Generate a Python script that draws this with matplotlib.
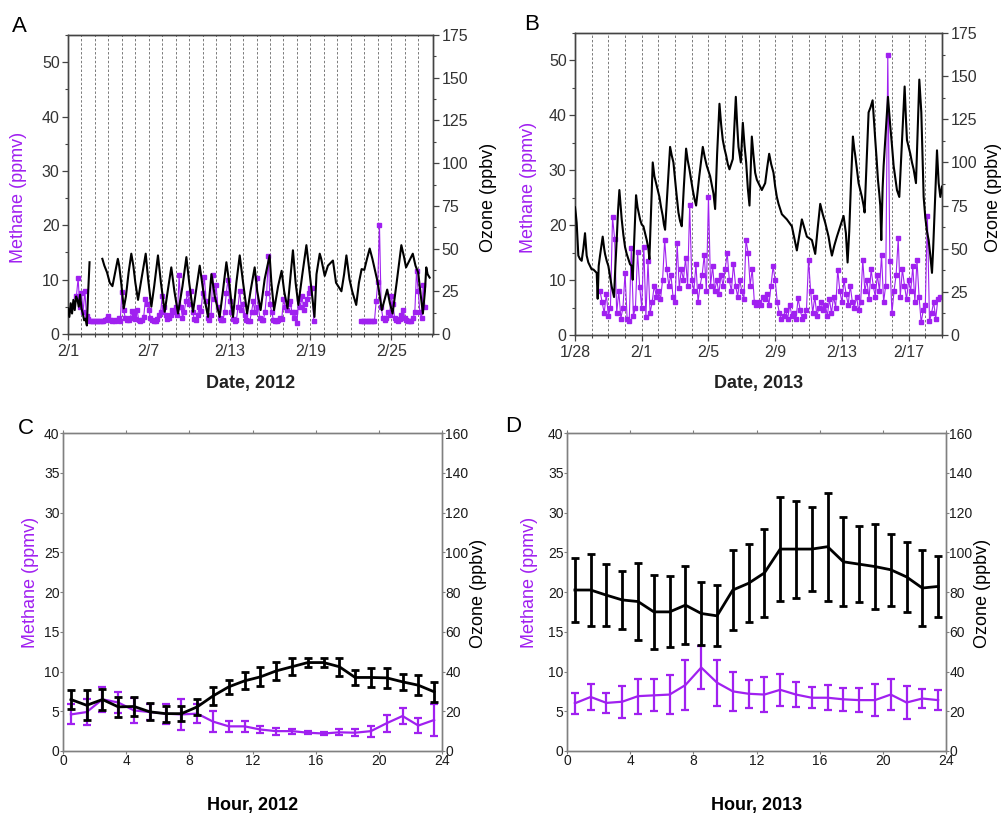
import numpy as np
import matplotlib
matplotlib.use('Agg')
import matplotlib.pyplot as plt
from matplotlib.ticker import MultipleLocator, FixedLocator

plt.rcParams['font.family'] = ['Liberation Sans', 'DejaVu Sans']

PURPLE = '#A020F0'
nan = np.nan

# ---------------- Panel A (Feb 2012) ----------------
a_date_ticks = [0, 6, 12, 18, 24]
a_date_labels = ['2/1', '2/7', '2/13', '2/19', '2/25']
a_ozone_day = [0.0, 0.1, 0.2, 0.3, 0.4, 0.5, 0.6, 0.7, 0.8, 0.9, 1.0, 1.1, 1.2, 1.3, 1.4, 1.5, 1.6,
               2.0,
               2.55, 2.7, 2.9, 3.1, 3.3, 3.5, 3.7, 3.8, 3.95, 4.14, 4.3, 4.5, 4.7, 4.85, 5.0, 5.2,
               5.45, 5.77, 5.95, 6.19, 6.4, 6.68, 6.9, 7.18, 7.4, 7.67, 7.9, 8.17, 8.5, 8.79, 9.0,
               9.28, 9.5, 9.78, 10.1, 10.4, 10.5, 10.65, 10.9, 11.26, 11.5, 11.76, 12.0, 12.25,
               12.5, 12.75, 13.0, 13.3, 13.55, 13.86, 14.05, 14.3, 14.6, 14.97, 15.1, 15.3, 15.6,
               15.86, 16.05, 16.3, 16.5, 16.7, 16.9, 17.1, 17.4, 17.7, 17.95, 18.3, 18.45, 18.69,
               18.8, 19.06, 19.3, 19.67, 19.9, 20.3, 20.5, 20.67, 20.9, 21.1, 21.4, 21.6, 21.8,
               22.0, 22.2, 22.4, 22.6, 22.8, 23.0, 23.3, 23.5, 23.7, 23.9, 24.1, 24.4, 24.75,
               24.95, 25.1, 25.35, 25.6, 25.8, 26.0, 26.2, 26.35, 26.5, 26.6, 26.7, 26.85]
a_ozone = [15, 10, 18, 12, 20, 14, 22, 20, 16, 23, 15, 12, 8, 9, 5, 25, 42,
           nan,
           44, 40, 36, 30, 28, 36, 44, 40, 30, 15, 22, 36, 47, 40, 30, 20,
           32, 47, 32, 16, 28, 46, 30, 13, 25, 39, 25, 12, 28, 45, 30,
           13, 25, 40, 22, 10, 22, 35, 22, 10, 25, 42, 28, 10,
           30, 46, 30, 12, 25, 39, 25, 14, 32, 46, 30, 14, 28,
           37, 25, 15, 32, 49, 30, 17, 35, 52, 35, 10, 35, 47,
           44, 34, 40, 43, 30, 25, 35, 46, 32, 25, 17, 30, 38,
           37.5, 44, 50, 44, 37, 30, 14, 20, 26, 18, 12, 30, 52,
           45, 39, 43, 47, 40, 36, 22, 12, 25, 39, 35, 33]
# methane, 3-hourly starting 2/1 00:00
a_methane = [nan, nan, nan, nan, nan, 6.9, 10.3, 5.0,
             7.5, 4.0, 8.0, 3.3, 2.8, 2.3, 2.3, 2.3,
             2.3, 2.3, 2.3, 2.3, 2.3, 2.3, 2.5, 2.8,
             3.4, 2.5, 2.3, 2.6, 2.4, 2.6, 3.0, 2.4,
             7.8, 4.5, 3.0, 2.6, 2.5, 3.0, 4.2, 3.5,
             2.8, 4.5, 2.6, 2.4, 2.5, 3.2, 6.5, 5.5,
             4.5, 3.0, 2.5, 2.3, 2.4, 2.8, 3.5, 4.0,
             7.0, 5.0, 3.5, 2.8, 3.0, 3.5, 4.5, 4.0,
             5.0, 3.5, 10.8, 5.0, 3.0, 4.0, 6.0, 7.5,
             5.5, 8.0, 4.0, 2.8, 2.6, 3.5, 5.0, 4.2,
             7.5, 10.5, 6.0, 3.0, 2.6, 3.5, 10.8, 6.5,
             9.0, 5.0, 3.0, 2.5, 2.5, 4.0, 7.5, 10.0,
             6.0, 4.0, 2.8, 2.3, 2.5, 5.0, 8.0, 4.5,
             5.5, 3.5, 2.5, 2.3, 2.4, 4.0, 6.0, 4.0,
             10.3, 5.0, 3.0, 2.5, 2.6, 4.0, 7.5, 14.3,
             5.5, 4.0, 2.6, 2.3, 2.3, 2.5, 3.0, 2.8,
             6.5, 5.0, 4.5, 5.5, 6.0, 4.0, 3.0, 4.0,
             2.0, 6.5, 5.0, 7.0, 4.5, 5.5, 6.5, 7.5,
             8.5, 8.5, 2.3, nan, nan, nan, nan, nan,
             nan, nan, nan, nan, nan, nan, nan, nan,
             nan, nan, nan, nan, nan, nan, nan, nan,
             nan, nan, nan, nan, nan, nan, 2.3, 2.3,
             2.3, 2.3, 2.3, 2.3, 2.3, 2.3, 2.3, 6.0,
             9.5, 20.0, 5.0, 3.0, 2.6, 3.0, 4.0, 3.5,
             7.0, 5.5, 3.0, 2.5, 2.4, 2.8, 3.5, 4.5,
             3.0, 2.5, 2.4, 2.3, 2.4, 3.0, 4.0, 11.5,
             8.0, 4.0, 3.0, 9.0, 5.0, nan, nan, nan]

# ---------------- Panel B (Jan/Feb 2013) ----------------
b_date_ticks = [0, 4, 8, 12, 16, 20]
b_date_labels = ['1/28', '2/1', '2/5', '2/9', '2/13', '2/17']
b_ozone_day = [0.0, 0.05, 0.1, 0.2, 0.3, 0.4, 0.5, 0.6, 0.7, 0.8, 0.9, 1.0, 1.1, 1.2, 1.3, 1.36,
               1.42, 1.5, 1.66, 1.75, 1.8, 1.9, 2.0, 2.1, 2.2, 2.34, 2.42, 2.5, 2.58, 2.66, 2.74,
               2.8, 2.9, 3.0, 3.1, 3.2, 3.3, 3.4, 3.46, 3.55, 3.66, 3.75, 3.9, 4.0, 4.1, 4.2, 4.3,
               4.4, 4.46, 4.55, 4.66, 4.76, 4.86, 4.96, 5.06, 5.16, 5.26, 5.33, 5.4, 5.55, 5.7,
               5.8, 5.9, 6.0, 6.06, 6.2, 6.3, 6.4, 6.52, 6.66, 6.76, 6.86, 6.96, 7.06, 7.16, 7.26,
               7.45, 7.66, 7.78, 7.9, 8.0, 8.1, 8.2, 8.3, 8.4, 8.52, 8.66, 8.76, 8.86, 8.96, 9.06,
               9.16, 9.26, 9.36, 9.46, 9.55, 9.64, 9.72, 9.8, 9.94, 10.0, 10.06, 10.16, 10.26,
               10.36, 10.46, 10.53, 10.6, 10.7, 10.8, 10.9, 11.0, 11.1, 11.2, 11.3, 11.4, 11.52,
               11.64, 11.76, 11.9, 12.0, 12.1, 12.2, 12.3, 12.4, 12.5, 12.6, 12.7, 12.85, 13.0,
               13.15, 13.3, 13.45, 13.6, 13.75, 13.9, 14.05, 14.2, 14.3, 14.4, 14.55, 14.7, 14.85,
               15.0, 15.1, 15.2, 15.3, 15.4, 15.55, 15.7, 15.9, 16.1, 16.24, 16.34, 16.44, 16.55,
               16.66, 16.74, 16.8, 16.9, 17.0, 17.1, 17.2, 17.3, 17.36, 17.48, 17.6, 17.72, 17.84,
               17.92, 18.0, 18.08, 18.16, 18.24, 18.3, 18.36, 18.44, 18.5, 18.64, 18.76, 18.84,
               18.9, 19.0, 19.1, 19.2, 19.3, 19.44, 19.6, 19.76, 19.84, 19.9, 20.0, 20.1, 20.2,
               20.3, 20.44, 20.54, 20.64, 20.7, 20.76, 20.84, 20.9, 21.0, 21.1, 21.2, 21.3, 21.4,
               21.47, 21.54, 21.62, 21.7, 21.8, 21.9, 22.0]
b_ozone = [74, 70, 65, 46, 44, 43, 50, 59, 46, 42, 40, 38, 38, 37, 36, 21,
           40, 46, 57, 50, 47, 43, 40, 34, 28, 22, 40, 55, 72, 84, 74,
           67, 58, 51, 47, 44, 41, 40, 32, 55, 81, 74, 67, 64, 63, 59, 55,
           50, 44, 70, 100, 92, 88, 84, 80, 74, 69, 64, 61, 85, 109,
           104, 100, 90, 84, 71, 66, 63, 85, 108, 101, 96, 90, 84, 79, 75,
           92, 109, 103, 98, 95, 92, 87, 82, 73, 105, 134, 122, 113, 108, 104,
           99, 96, 99, 102, 120, 138, 122, 109, 100, 112, 123, 110, 100,
           85, 75, 95, 115, 104, 94, 90, 88, 86, 84, 86, 88, 97,
           105, 99, 94, 86, 80, 76, 73, 70, 69, 68, 67, 65, 63,
           56, 49, 58, 67, 62, 57, 56, 55, 51, 47, 62, 76, 70,
           65, 61, 57, 51, 46, 52, 57, 63, 69, 59, 42, 60, 90,
           115, 108, 104, 96, 88, 84, 80, 75, 71, 100, 129, 132, 136,
           124, 113, 102, 90, 82, 75, 55, 85, 98, 120, 138, 128,
           121, 110, 98, 91, 84, 80, 112, 144, 125, 113, 109, 105, 100,
           96, 88, 118, 148, 138, 129, 100, 80, 68, 60, 55, 46, 36,
           50, 67, 88, 107, 88, 80, 86]
# methane, 3-hourly starting 1/28 00:00
b_methane = [nan, nan, nan, nan, nan, nan, nan, nan,
             nan, nan, nan, nan, 8.0, 6.0, 4.0, 7.5,
             3.5, 5.0, 21.5, 17.5, 4.0, 8.0, 3.0, 5.0,
             11.3, 3.0, 2.5, 15.8, 3.5, 5.0, 15.2, 8.8,
             5.0, 16.1, 3.3, 13.4, 4.0, 6.0, 9.0, 7.0,
             8.0, 6.5, 10.0, 17.3, 12.0, 9.0, 11.0, 7.0,
             6.0, 16.7, 8.5, 12.0, 10.0, 14.0, 9.0, 23.7,
             10.0, 8.0, 13.0, 6.0, 9.0, 11.0, 14.6, 8.0,
             25.2, 9.0, 12.5, 8.0, 10.0, 7.5, 11.0, 9.0,
             12.0, 14.9, 10.0, 8.0, 13.0, 9.0, 7.0, 10.0,
             8.0, 6.5, 17.3, 15.0, 9.0, 12.0, 6.0, 5.5,
             6.0, 5.5, 7.0, 6.5, 7.5, 5.5, 9.0, 12.5,
             10.0, 6.0, 4.0, 3.0, 3.5, 4.5, 3.0, 5.5,
             3.5, 4.0, 3.0, 6.7, 4.5, 3.0, 3.5, 4.5,
             13.7, 8.0, 4.0, 7.0, 3.5, 5.0, 6.0, 4.5,
             5.5, 3.5, 6.5, 4.0, 7.0, 5.0, 11.9, 8.0,
             6.0, 10.0, 7.5, 5.5, 9.0, 6.0, 5.0, 7.0,
             4.5, 6.0, 13.7, 8.0, 10.0, 6.5, 12.0, 9.0,
             7.0, 11.0, 8.0, 14.6, 6.0, 9.0, 51.0, 13.4,
             4.0, 8.0, 11.0, 17.6, 7.0, 12.0, 9.0, 6.5,
             10.0, 8.0, 12.5, 6.0, 13.7, 7.0, 2.3, 4.5,
             5.5, 21.6, 2.5, 4.0, 6.0, 3.0, 6.5, 7.0]

# ---------------- Panels C, D (diurnal means) ----------------
hours = [0.5, 1.5, 2.5, 3.5, 4.5, 5.5, 6.5, 7.5, 8.5, 9.5, 10.5, 11.5,
         12.5, 13.5, 14.5, 15.5, 16.5, 17.5, 18.5, 19.5, 20.5, 21.5, 22.5, 23.5]
c_methane = [4.6, 4.9, 6.5, 6.1, 5.1, 4.9, 4.7, 4.6, 4.7, 3.7, 3.1, 3.1,
             2.7, 2.5, 2.5, 2.3, 2.2, 2.35, 2.3, 2.5, 3.5, 4.4, 3.2, 3.9]
c_methane_err = [1.25, 1.6, 1.55, 1.3, 1.6, 0.95, 1.25, 1.9, 1.15, 1.35, 0.7, 0.65,
                 0.4, 0.45, 0.3, 0.2, 0.2, 0.4, 0.45, 0.7, 1.05, 0.95, 0.95, 2.0]
c_ozone = [25.9, 23.0, 25.9, 22.2, 22.4, 19.7, 18.8, 18.8, 22.2, 27.7, 32.3, 35.3,
           37.3, 40.3, 42.4, 44.5, 44.5, 42.4, 37.0, 37.0, 36.8, 34.8, 33.1, 29.8]
c_ozone_err = [5.0, 7.6, 5.3, 4.9, 4.6, 4.2, 4.0, 3.8, 4.2, 4.4, 3.6, 4.2,
               4.8, 4.4, 4.2, 2.4, 2.4, 4.6, 3.6, 4.6, 5.0, 4.0, 5.0, 5.0]
d_methane = [6.0, 6.8, 6.05, 6.2, 6.9, 7.0, 7.1, 8.3, 10.5, 8.6, 7.5, 7.2,
             7.1, 7.7, 7.1, 6.7, 6.7, 6.5, 6.4, 6.4, 7.1, 6.1, 6.6, 6.4]
d_methane_err = [1.3, 1.6, 1.25, 2.0, 2.2, 2.0, 2.4, 3.2, 2.75, 2.9, 2.45, 1.75,
                 2.25, 2.0, 1.6, 1.35, 1.6, 1.45, 1.5, 2.05, 1.95, 2.05, 1.15, 1.25]
d_ozone = [81.0, 81.0, 78.4, 76.0, 75.2, 70.0, 70.0, 73.4, 69.2, 68.0, 81.0, 84.4,
           89.6, 101.6, 101.6, 101.6, 102.8, 95.2, 94.0, 92.8, 91.2, 87.6, 82.0, 82.8]
d_ozone_err = [16.0, 18.2, 15.6, 14.6, 19.6, 18.6, 17.8, 19.6, 16.0, 15.4, 20.2, 19.6,
               22.2, 26.2, 24.4, 21.2, 27.2, 22.4, 19.2, 21.6, 18.0, 17.8, 19.2, 15.4]

W, H = 1003, 814
fig = plt.figure(figsize=(W / 100, H / 100), dpi=100)


def rect(l, t, r, b):
    return [l / W, 1 - b / H, (r - l) / W, (b - t) / H]


def timeseries(pos, ozone_day, ozone, methane, xmax, ticks, labels, xlabel,
               mlab, olab, xlab_y):
    ax = fig.add_axes(pos)
    ax2 = ax.twinx()
    mday = np.arange(len(methane)) / 8.0
    ax.plot(mday, methane, '-', color=PURPLE, lw=0.8, marker='s', ms=3.3,
            mfc=PURPLE, mec=PURPLE, zorder=3)
    ax2.plot(ozone_day, ozone, '-', color='black', lw=1.5, zorder=3)
    ax.set_xlim(0, xmax)
    ax.set_ylim(0, 55)
    ax2.set_ylim(0, 175)
    for d in range(1, int(xmax) + 1):
        if d < xmax - 0.3:
            ax.axvline(d, color='#7a7a7a', lw=0.7, ls=(0, (2.5, 2)), zorder=1)
    ax.xaxis.set_major_locator(FixedLocator(ticks))
    ax.set_xticklabels(labels)
    ax.xaxis.set_minor_locator(MultipleLocator(1))
    ax.yaxis.set_major_locator(MultipleLocator(10))
    ax.yaxis.set_minor_locator(MultipleLocator(5))
    ax2.yaxis.set_major_locator(MultipleLocator(25))
    ax2.yaxis.set_minor_locator(MultipleLocator(12.5))
    for a in (ax, ax2):
        for s in a.spines.values():
            s.set_color('#444444')
            s.set_linewidth(1.0)
        a.tick_params(which='major', direction='out', length=4, width=0.9,
                      color='#444444', labelsize=11.5, labelcolor='#333333', pad=2)
        a.tick_params(which='minor', direction='out', length=2.2, width=0.8,
                      color='#444444')
    ax.tick_params(axis='x', pad=3)
    ax2.tick_params(axis='y', pad=2)
    ax.set_xlabel(xlabel, fontsize=13, fontweight='bold', color='#222222', va='center')
    ax.xaxis.set_label_coords(0.5, xlab_y)
    ax.set_ylabel(mlab[0], fontsize=13, color=PURPLE, va='center', ha='center')
    ax.yaxis.set_label_coords(mlab[1], mlab[2])
    ax2.set_ylabel(olab[0], fontsize=13, color='black', va='center', ha='center',
                   rotation=90)
    ax2.yaxis.set_label_coords(olab[1], olab[2])
    return ax, ax2


timeseries(rect(68, 35, 433, 334), a_ozone_day, a_ozone, a_methane, 27.1,
           a_date_ticks, a_date_labels, 'Date, 2012',
           ('Methane (ppmv)', -0.136, 0.458), ('Ozone (ppbv)', 1.151, 0.458), -0.164)
timeseries(rect(575, 33, 942, 335), b_ozone_day, b_ozone, b_methane, 22.0,
           b_date_ticks, b_date_labels, 'Date, 2013',
           ('Methane (ppmv)', -0.128, 0.487), ('Ozone (ppbv)', 1.139, 0.457), -0.159)


def diurnal(pos, mval, merr, oval, oerr, xlabel, mlab_x, olab_x):
    ax = fig.add_axes(pos)
    ax2 = ax.twinx()
    ax.errorbar(hours, mval, yerr=merr, color=PURPLE, lw=1.6, elinewidth=1.6,
                capsize=3, capthick=1.6, zorder=3)
    ax2.errorbar(hours, oval, yerr=oerr, color='black', lw=2.0, elinewidth=2.0,
                 capsize=3, capthick=2.0, zorder=3)
    ax.set_xlim(0, 24)
    ax.set_ylim(0, 40)
    ax2.set_ylim(0, 160)
    ax.xaxis.set_major_locator(MultipleLocator(4))
    ax.yaxis.set_major_locator(MultipleLocator(5))
    ax2.yaxis.set_major_locator(MultipleLocator(20))
    for a in (ax, ax2):
        for s in a.spines.values():
            s.set_color('#808080')
            s.set_linewidth(1.0)
        a.tick_params(direction='out', length=2, width=0.8, color='#808080',
                      labelsize=10, labelcolor='#1a1a1a', pad=0.5)
    ax.tick_params(axis='x', top=True, pad=0.5)
    ax.set_xlabel(xlabel, fontsize=13, fontweight='bold', color='black', va='center')
    ax.xaxis.set_label_coords(0.5, -0.170)
    ax.set_ylabel('Methane (ppmv)', fontsize=13, color=PURPLE, va='center', ha='center')
    ax.yaxis.set_label_coords(mlab_x, 0.531)
    ax2.set_ylabel('Ozone (ppbv)', fontsize=13, color='black', va='center', ha='center',
                   rotation=90)
    ax2.yaxis.set_label_coords(olab_x, 0.494)
    return ax, ax2


diurnal(rect(63, 433, 442, 751), c_methane, c_methane_err, c_ozone, c_ozone_err,
        'Hour, 2012', -0.087, 1.097)
diurnal(rect(567, 433, 946, 751), d_methane, d_methane_err, d_ozone, d_ozone_err,
        'Hour, 2013', -0.098, 1.096)

for letter, x, y in [('A', 12, 26), ('B', 524, 25), ('C', 18, 428), ('D', 505, 427)]:
    fig.text(x / W, 1 - y / H, letter, fontsize=16, ha='left', va='center', color='black')

fig.savefig('out.png', dpi=100)
